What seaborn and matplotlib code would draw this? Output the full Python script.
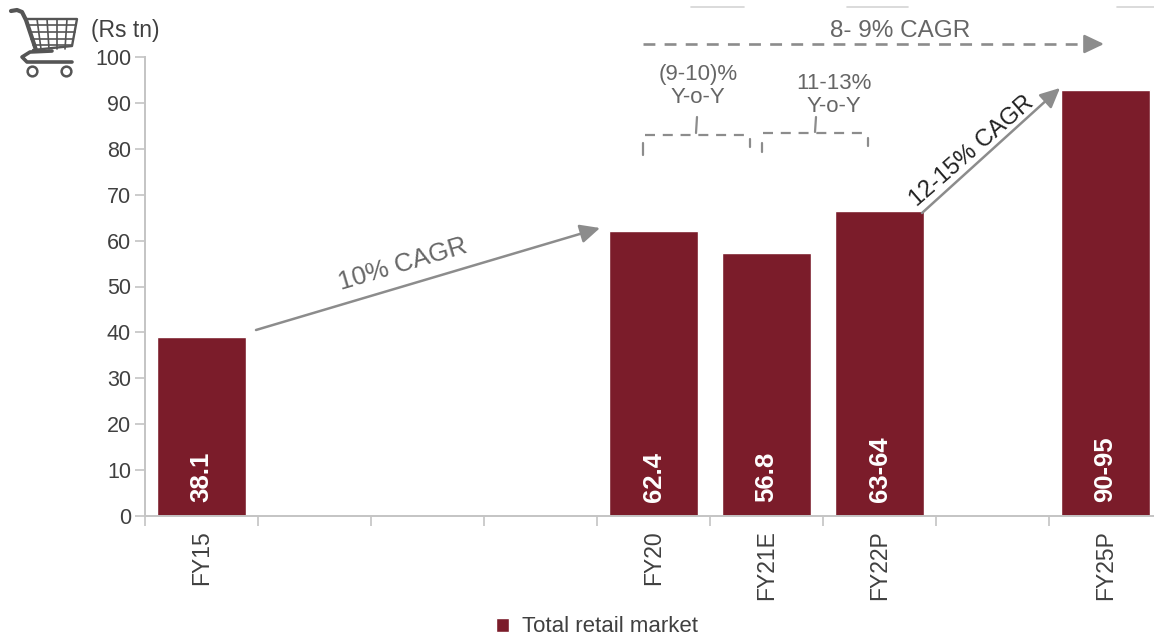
import numpy as np
import pandas as pd
import seaborn as sns
import matplotlib.pyplot as plt
from matplotlib.lines import Line2D

categories = ['FY15', ' ', '  ', '   ', 'FY20', 'FY21E', 'FY22P', '    ', 'FY25P']
heights = [38.9, np.nan, np.nan, np.nan, 62.0, 57.3, 66.4, np.nan, 92.9]
bar_labels = ['38.1', '', '', '', '62.4', '56.8', '63-64', '', '90-95']
yticks = list(range(0, 101, 10))

W, H = 1154, 637
RED = '#7b1c2a'
GREY = '#8c8c8c'
TXT = '#666666'
AXC = '#c4c4c4'

sns.set_theme(style='white')
plt.rcParams['font.family'] = ['Liberation Sans', 'DejaVu Sans']

df = pd.DataFrame({'cat': categories, 'val': heights})

fig = plt.figure(figsize=(W / 100, H / 100), dpi=100)
# right edge of the plot area runs slightly past the canvas, as in the source
ax = fig.add_axes([145 / W, 1 - 516 / H, (1162 - 145) / W, (516 - 57) / H])

sns.barplot(data=df, x='cat', y='val', order=categories, color=RED, saturation=1,
            width=0.78, ax=ax, label='Total retail market')

ax.set_xlim(-0.5, 8.5)
ax.set_ylim(0, 100)
ax.set_xlabel('')
ax.set_ylabel('')
ax.set_yticks(yticks)
ax.tick_params(axis='y', labelsize=15.5, labelcolor='#404040', color=AXC, length=7, width=1.2,
               left=True, pad=3)
ax.set_xticks(range(len(categories)))
ax.set_xticklabels(categories, rotation=90, fontsize=16.5, color='#404040')
ax.tick_params(axis='x', which='major', length=0, pad=10)
ax.set_xticks(np.arange(-0.5, 8.5, 1), minor=True)
ax.tick_params(axis='x', which='minor', bottom=True, length=7, width=1.2, color=AXC)
for s in ['top', 'right']:
    ax.spines[s].set_visible(False)
for s in ['left', 'bottom']:
    ax.spines[s].set_color(AXC)
    ax.spines[s].set_linewidth(1.4)

for i, t in enumerate(bar_labels):
    if t:
        ax.text(i, 3.0, t, rotation=90, color='white', fontsize=18.5, fontweight='bold',
                ha='center', va='bottom')

leg = fig.legend(*ax.get_legend_handles_labels(), loc='center', bbox_to_anchor=(597 / W, 1 - 627 / H),
                 frameon=False, fontsize=16, handlelength=0.6, handleheight=0.6, handletextpad=0.6)
for t in leg.get_texts():
    t.set_color('#404040')
ax.get_legend().remove()


def p(x, y):
    return (x / W, 1 - y / H)


def arrow(x0, y0, x1, y1, lw=1.8, color=GREY):
    ax.annotate('', xy=p(x1, y1), xytext=p(x0, y0), xycoords='figure fraction',
                textcoords='figure fraction', annotation_clip=False,
                arrowprops=dict(arrowstyle='-|>,head_length=0.8,head_width=0.38', color=color,
                                lw=lw, shrinkA=0, shrinkB=0, mutation_scale=15))


def seg(xs, ys, color=GREY, lw=1.6, ls='-', **kw):
    fig.add_artist(Line2D([x / W for x in xs], [1 - y / H for y in ys], color=color, lw=lw, ls=ls, **kw))


def label(x, y, s, size=16, color=TXT, rot=0, **kw):
    fig.text(x / W, 1 - y / H, s, fontsize=size, color=color, rotation=rot, ha='center', va='center',
             rotation_mode='anchor', linespacing=1.1, **kw)


arrow(256, 330, 600, 228)
arrow(922, 213, 1060, 88)
seg([643, 1090], [44, 44], ls=(0, (4.5, 3.5)), lw=1.9)
arrow(1088, 44, 1104, 44)

label(403, 264, '10% CAGR', size=18.5, rot=16.5)
label(972, 151, '12-15% CAGR', size=17, color='#222222', rot=41)
label(900, 31, '8- 9% CAGR', size=17.5)
label(698, 86, '(9-10)%\nY-o-Y')
label(834, 95, '11-13%\nY-o-Y')

dash = (0, (4.5, 3.5))
seg([645, 748], [135, 135], ls=dash)
seg([643, 643], [143, 155])
seg([750, 750], [139, 147])
seg([697, 696], [117, 133])
seg([763, 862], [133, 133], ls=dash)
seg([762, 762], [143, 152])
seg([868, 868], [138, 146])
seg([816, 815], [117, 132])

# faint rules cut off at the top of the source
for x0, x1 in [(691, 744), (847, 908), (1117, 1154)]:
    seg([x0, x1], [7, 7], color='#d4d4d4', lw=1.2)

# cart icon
CART = '#555555'
seg([11, 17, 22, 26, 36], [11, 10, 12, 20, 50], color=CART, lw=3, solid_capstyle='round')
seg([27, 77, 72, 33], [19, 19, 46, 50], color=CART, lw=1.7)
for x0, x1 in [(37, 41), (47, 49), (57, 57), (67, 65)]:
    seg([x0, x1], [19, 49], color=CART, lw=1.2)
for y, x0, x1 in [(25, 28, 76), (32, 30, 75), (39, 31, 73), (45, 33, 72)]:
    seg([x0, x1], [y, y], color=CART, lw=1.2)
seg([52, 30, 22, 27, 72], [51, 52, 57, 62, 62], color=CART, lw=2.6, solid_capstyle='round')
seg([32, 66], [71, 71], ls='none', marker='o', ms=7, mfc='white', mec=CART, mew=1.8)
label(125, 30, '(Rs tn)', size=16.5, color='#404040')

fig.savefig('out.png', dpi=100)
